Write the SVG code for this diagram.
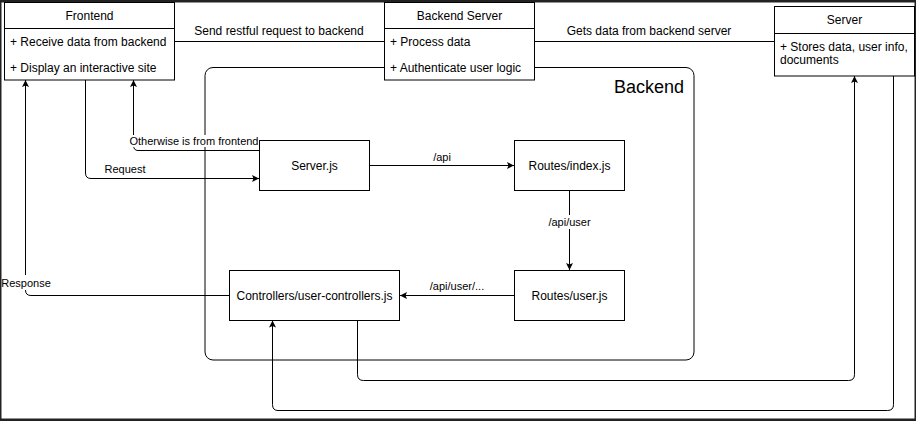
<svg xmlns="http://www.w3.org/2000/svg" width="916" height="421" viewBox="0 0 916 421">
  <defs>
    <style>
      .box { fill: #ffffff; stroke: #000000; stroke-width: 1; }
      .sep { stroke: #000000; stroke-width: 1; }
      .t { font-family: "Liberation Sans", Arial, sans-serif; font-size: 12px; fill: #000000; }
      .c { text-anchor: middle; dominant-baseline: central; }
      .l { font-family: "Liberation Sans", Arial, sans-serif; font-size: 11px; fill: #000000; text-anchor: middle; dominant-baseline: central; }
      .l12 { font-size: 12px; }
      .edge { fill: none; stroke: #000000; stroke-width: 1; }
      .arr { marker-end: url(#ah); }
      .lbg { fill: #ffffff; }
    </style>
    <marker id="ah" markerWidth="8" markerHeight="8" refX="7" refY="3.5" orient="auto" markerUnits="userSpaceOnUse">
      <path d="M0,0 L7,3.5 L0,7 L1.5,3.5 z" fill="#000000"/>
    </marker>
  </defs>

  <rect x="0" y="0" width="916" height="421" fill="#222222"/>
  <rect x="1.5" y="2.5" width="913" height="416" fill="#ffffff"/>

  <!-- Backend container -->
  <g id="backend-container">
    <rect x="205" y="67.5" width="489" height="292.5" rx="8" ry="8" fill="none" stroke="#000000" stroke-width="1"/>
    <text class="t" x="684" y="87" style="font-size:18px;text-anchor:end;dominant-baseline:central">Backend</text>
  </g>

  <!-- Connectors -->
  <g id="connectors">
    <path class="edge" d="M174,41.5 H384"/>
    <text class="l l12" x="279" y="31">Send restful request to backend</text>
    <path class="edge" d="M534,41.5 H774"/>
    <text class="l l12" x="649" y="31">Gets data from backend server</text>

    <path class="edge arr" d="M85.5,80 V173 Q85.5,178.5 91,178.5 H259"/>
    <text class="l" x="125" y="169">Request</text>

    <path class="edge arr" d="M259,150.5 H138 Q133.5,150.5 133.5,145 V80"/>
    <rect class="lbg" x="130" y="135" width="128" height="12"/>
    <text class="l" x="194" y="141">Otherwise is from frontend</text>

    <path class="edge arr" d="M369,165.5 H514"/>
    <text class="l" x="442" y="157">/api</text>

    <path class="edge arr" d="M569.5,190 V270"/>
    <rect class="lbg" x="547" y="215" width="45" height="14"/>
    <text class="l" x="569.5" y="222">/api/user</text>

    <path class="edge arr" d="M514,295.5 H400"/>
    <text class="l" x="457" y="286">/api/user/...</text>

    <path class="edge arr" d="M229,295.5 H31 Q25.5,295.5 25.5,290 V80"/>
    <rect class="lbg" x="2" y="275" width="48" height="15"/>
    <text class="l" x="26" y="283">Response</text>

    <path class="edge arr" d="M357.5,320 V374.5 Q357.5,380.5 363.5,380.5 H848.5 Q854.5,380.5 854.5,374.5 V76"/>
    <path class="edge arr" d="M893.5,76 V404.5 Q893.5,410.5 887.5,410.5 H278 Q272.5,410.5 272.5,404.5 V320.5"/>
  </g>

  <!-- Frontend -->
  <g id="frontend">
    <rect class="box" x="4.5" y="2.5" width="170" height="77.5"/>
    <line class="sep" x1="4.5" y1="28.5" x2="174.5" y2="28.5"/>
    <text class="t c" x="89.5" y="16">Frontend</text>
    <text class="t" x="10" y="42" dominant-baseline="central">+ Receive data from backend</text>
    <text class="t" x="10" y="68" dominant-baseline="central">+ Display an interactive site</text>
  </g>

  <!-- Backend Server -->
  <g id="backend-server">
    <rect class="box" x="384.5" y="2.5" width="150" height="77.5"/>
    <line class="sep" x1="384.5" y1="28.5" x2="534.5" y2="28.5"/>
    <text class="t c" x="459.5" y="16">Backend Server</text>
    <text class="t" x="390" y="42" dominant-baseline="central">+ Process data</text>
    <text class="t" x="390" y="68" dominant-baseline="central">+ Authenticate user logic</text>
  </g>

  <!-- Server -->
  <g id="server">
    <rect class="box" x="774.5" y="6.5" width="140" height="69.5"/>
    <line class="sep" x1="774.5" y1="33.5" x2="914.5" y2="33.5"/>
    <text class="t c" x="844.5" y="20">Server</text>
    <text class="t" x="780" y="47" dominant-baseline="central">+ Stores data, user info,</text>
    <text class="t" x="780" y="60" dominant-baseline="central">documents</text>
  </g>

  <!-- Server.js -->
  <g id="serverjs">
    <rect class="box" x="259.5" y="140.5" width="110" height="50"/>
    <text class="t c" x="314.5" y="165.5">Server.js</text>
  </g>

  <!-- Routes/index.js -->
  <g id="routes-index">
    <rect class="box" x="514.5" y="140.5" width="110" height="50"/>
    <text class="t c" x="569.5" y="165.5">Routes/index.js</text>
  </g>

  <!-- Routes/user.js -->
  <g id="routes-user">
    <rect class="box" x="514.5" y="270.5" width="110" height="50"/>
    <text class="t c" x="569.5" y="295.5">Routes/user.js</text>
  </g>

  <!-- Controllers -->
  <g id="controllers">
    <rect class="box" x="229.5" y="270.5" width="170" height="50"/>
    <text class="t c" x="314.5" y="295.5">Controllers/user-controllers.js</text>
  </g>
</svg>
